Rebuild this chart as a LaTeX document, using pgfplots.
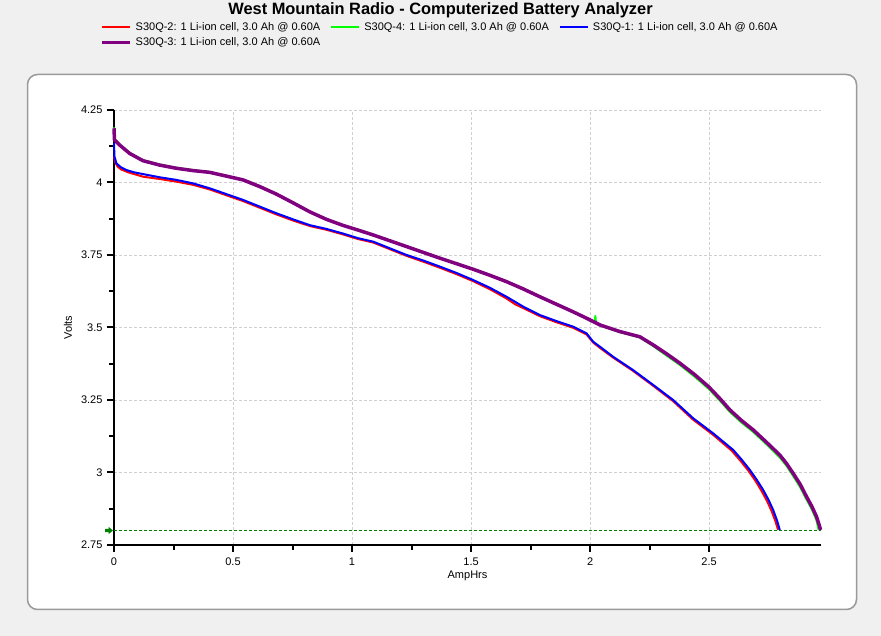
\documentclass[border=0pt]{standalone}
\usepackage{pgfplots}
\pgfplotsset{compat=1.18}
\usepackage{pgfplotstable}
\usepackage{fontspec}
\setmainfont{Liberation Sans}

\definecolor{bg}{HTML}{F0F0F0}
\definecolor{panelline}{HTML}{9A9A9A}
\definecolor{gridgray}{HTML}{D0D0D0}
\definecolor{cellred}{HTML}{FF0000}
\definecolor{cellgreen}{HTML}{00FF00}
\definecolor{cellblue}{HTML}{0000FF}
\definecolor{cellpurple}{HTML}{800080}
\definecolor{cutoff}{HTML}{008000}

% S30Q-2 (red)
\pgfplotstableread{
ah v
0 4.089
0.005 4.070
0.015 4.055
0.030 4.045
0.060 4.035
0.122 4.020
0.192 4.012
0.262 4.003
0.332 3.992
0.402 3.976
0.472 3.956
0.542 3.936
0.612 3.913
0.682 3.890
0.752 3.869
0.822 3.850
0.892 3.837
0.962 3.821
1.025 3.805
1.089 3.793
1.159 3.770
1.229 3.747
1.299 3.727
1.369 3.706
1.439 3.684
1.508 3.660
1.579 3.632
1.649 3.600
1.685 3.580
1.719 3.567
1.789 3.539
1.859 3.518
1.929 3.499
1.985 3.476
2.013 3.448
2.041 3.430
2.097 3.396
2.181 3.350
2.265 3.299
2.349 3.246
2.433 3.182
2.517 3.130
2.595 3.075
2.630 3.042
2.665 3.006
2.694 2.972
2.720 2.937
2.743 2.902
2.762 2.868
2.778 2.833
2.790 2.802
}\cellTwo

% S30Q-4 (green)
\pgfplotstableread{
ah v
0 4.190
0.002 4.150
0.024 4.131
0.066 4.102
0.122 4.077
0.192 4.062
0.262 4.051
0.332 4.043
0.402 4.036
0.472 4.023
0.542 4.010
0.612 3.987
0.682 3.961
0.752 3.931
0.822 3.900
0.892 3.874
0.962 3.853
1.025 3.837
1.089 3.820
1.159 3.800
1.229 3.780
1.299 3.760
1.369 3.740
1.439 3.721
1.508 3.702
1.579 3.681
1.649 3.659
1.719 3.634
1.789 3.607
1.859 3.581
1.929 3.555
1.985 3.533
2.020 3.516
2.022 3.540
2.025 3.515
2.041 3.507
2.125 3.484
2.209 3.466
2.265 3.436
2.320 3.404
2.377 3.371
2.440 3.330
2.500 3.287
2.545 3.248
2.587 3.209
2.635 3.173
2.685 3.140
2.740 3.098
2.797 3.052
2.826 3.022
2.853 2.988
2.882 2.950
2.909 2.907
2.932 2.872
2.951 2.835
2.960 2.802
}\cellFour

% S30Q-1 (blue)
\pgfplotstableread{
ah v
0 4.136
0.002 4.090
0.010 4.066
0.030 4.052
0.052 4.043
0.085 4.035
0.122 4.029
0.192 4.018
0.262 4.009
0.332 3.997
0.402 3.980
0.472 3.960
0.542 3.940
0.612 3.917
0.682 3.894
0.752 3.873
0.822 3.853
0.892 3.840
0.962 3.824
1.025 3.808
1.089 3.796
1.159 3.773
1.229 3.750
1.299 3.731
1.369 3.710
1.439 3.688
1.508 3.664
1.579 3.637
1.649 3.606
1.719 3.572
1.789 3.543
1.859 3.522
1.929 3.503
1.985 3.480
2.013 3.451
2.041 3.434
2.097 3.399
2.181 3.353
2.265 3.302
2.349 3.250
2.433 3.187
2.517 3.135
2.601 3.078
2.636 3.045
2.671 3.009
2.700 2.975
2.727 2.940
2.750 2.905
2.769 2.871
2.785 2.835
2.797 2.802
}\cellOne

% S30Q-3 (purple)
\pgfplotstableread{
ah v
0 4.187
0.002 4.147
0.024 4.129
0.066 4.100
0.122 4.075
0.192 4.060
0.262 4.049
0.332 4.041
0.402 4.035
0.472 4.022
0.542 4.009
0.612 3.986
0.682 3.960
0.752 3.930
0.822 3.899
0.892 3.873
0.962 3.852
1.025 3.836
1.089 3.819
1.159 3.799
1.229 3.779
1.299 3.759
1.369 3.739
1.439 3.720
1.508 3.701
1.579 3.680
1.649 3.658
1.719 3.633
1.789 3.606
1.859 3.580
1.929 3.554
1.985 3.532
2.041 3.509
2.125 3.486
2.209 3.468
2.265 3.440
2.320 3.410
2.377 3.377
2.440 3.337
2.500 3.294
2.545 3.255
2.587 3.216
2.635 3.180
2.685 3.147
2.740 3.105
2.797 3.060
2.826 3.030
2.853 2.997
2.882 2.960
2.909 2.917
2.932 2.882
2.951 2.848
2.962 2.820
2.968 2.802
}\cellThree

% cutoff arrow on the y axis
\pgfdeclareplotmark{cutarrow}{%
  \pgfpathrectanglecorners{\pgfpoint{-9pt}{-1.7pt}}{\pgfpoint{-5pt}{1.7pt}}%
  \pgfpathmoveto{\pgfpoint{-5.5pt}{-3.7pt}}%
  \pgfpathlineto{\pgfpoint{-1pt}{0pt}}%
  \pgfpathlineto{\pgfpoint{-5.5pt}{3.7pt}}%
  \pgfpathclose
  \pgfusepath{fill}}

\begin{document}
\begin{tikzpicture}[x=1pt,y=1pt]
\fill[bg] (0,0) rectangle (881,636);
\useasboundingbox (0,0) rectangle (881,636);
\draw[panelline, line width=1.5pt, fill=white, rounded corners=10pt] (27.5,26.5) rectangle (856.5,561.5);
\node[font=\bfseries\fontsize{16.4}{18}\selectfont, anchor=base] at (440.5,621)
  {West Mountain Radio - Computerized Battery Analyzer};

\begin{axis}[
    at={(114pt,91pt)}, anchor=south west,
    scale only axis, width=707pt, height=435pt,
    xmin=0, xmax=2.97, ymin=2.75, ymax=4.25,
    axis lines*=left,
    axis line style={line width=2pt, black},
    xtick={0,0.5,1,1.5,2,2.5},
    ytick={2.75,3,3.25,3.5,3.75,4,4.25},
    minor x tick num=1, minor y tick num=1,
    tick align=outside,
    major tick length=7pt, minor tick length=5pt,
    every tick/.style={line width=2pt, black},
    grid=major,
    major grid style={gridgray, line width=0.8pt, dash pattern=on 3pt off 2pt},
    /pgf/number format/assume math mode=true,
    tick label style={font=\fontsize{11}{13}\selectfont},
    yticklabel style={anchor=east, xshift=-1pt},
    xticklabel style={anchor=north, yshift=-2.5pt},
    label style={font=\fontsize{11}{13}\selectfont},
    xlabel={AmpHrs}, ylabel={Volts},
    xlabel style={at={(axis description cs:0.5,-0.0713)}, anchor=center},
    ylabel style={at={(axis description cs:-0.0651,0.5)}, anchor=center},
    clip=false,
    legend columns=3,
    legend cell align=left,
    legend image code/.code={\draw[#1] (0pt,0pt) -- (28pt,0pt);},
    legend style={
        at={(axis description cs:-0.0198,1.2024)}, anchor=north west,
        draw=none, fill=none, inner sep=0pt,
        font=\fontsize{11}{13}\selectfont,
        nodes={inner sep=0pt, text height=8pt, text depth=2.5pt},
        row sep=4.5pt,
        /tikz/every odd column/.append style={column sep=4pt},
        /tikz/every even column/.append style={column sep=10pt}},
]
\addplot[cutoff, line width=0.9pt, dash pattern=on 3pt off 2pt, forget plot]
  coordinates {(0,2.8) (2.97,2.8)};
\addplot[cellred, line width=2pt, line join=round] table[x=ah, y=v] {\cellTwo};
\addlegendentry{S30Q-2: 1 Li-ion cell, 3.0 Ah @ 0.60A}
\addplot[cellgreen, line width=2pt, line join=round] table[x=ah, y=v] {\cellFour};
\addlegendentry{S30Q-4: 1 Li-ion cell, 3.0 Ah @ 0.60A}
\addplot[cellblue, line width=2pt, line join=round] table[x=ah, y=v] {\cellOne};
\addlegendentry{S30Q-1: 1 Li-ion cell, 3.0 Ah @ 0.60A}
\addplot[cellpurple, line width=3.5pt, line join=round] table[x=ah, y=v] {\cellThree};
\addlegendentry{S30Q-3: 1 Li-ion cell, 3.0 Ah @ 0.60A}
\addplot[cutoff, only marks, mark=cutarrow, forget plot] coordinates {(0,2.8)};
\end{axis}
\end{tikzpicture}
\end{document}
